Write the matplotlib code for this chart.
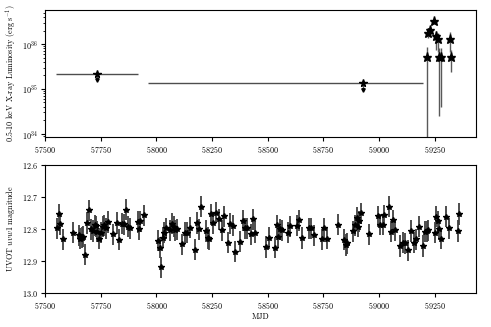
import numpy as np
import matplotlib
matplotlib.use("Agg")
import matplotlib.pyplot as plt

plt.rcParams['font.family'] = 'serif'
plt.rcParams['font.serif'] = ['cmr10']
plt.rcParams['mathtext.fontset'] = 'cm'
plt.rcParams['axes.formatter.use_mathtext'] = True
plt.rcParams['axes.unicode_minus'] = False
plt.rcParams['font.size'] = 5.8

# X-ray: long stacked observations (star + upper limit arrow below)
xr_stack_mjd = [57734, 58927]
xr_stack_lum = [2.2e35, 1.35e35]
xr_stack_lim = [1.55e35, 0.94e35]
xr_stack_xlo = [185, 963]
xr_stack_xhi = [185, 270]

# X-ray: individual 2021 observations
xr_mjd = [59214, 59221, 59229, 59248, 59256, 59266, 59271, 59278, 59317, 59323]
xr_lum = [5.1e35, 1.78e36, 2.1e36, 3.3e36, 1.54e36, 1.32e36, 5.1e35, 5.1e35, 1.32e36, 5.1e35]
xr_low = [1e30, 1.37e36, 1.75e36, 2.73e36, 7.4e35, 6.8e35, 2.5e34, 3.9e34, 6.8e35, 2.4e35]
xr_high = [8.8e35, 2.3e36, 2.5e36, 3.87e36, 1.93e36, 1.77e36, 8.1e35, 8.1e35, 1.83e36, 7.4e35]

# UVOT uvw1 magnitudes
uv_mjd = [57552, 57563, 57567, 57578, 57623, 57651, 57657, 57666, 57672, 57680,
          57687, 57699, 57707, 57714, 57722, 57729, 57735, 57744, 57751, 57759,
          57766, 57774, 57781, 57804, 57825, 57834, 57844, 57855, 57861, 57870,
          57882, 57916, 57922, 57928, 57945,
          58007, 58015, 58022, 58030, 58036, 58043, 58063, 58072, 58078, 58085,
          58091, 58115, 58128, 58139, 58150, 58175, 58183, 58190, 58198, 58223,
          58232, 58238, 58247, 58253, 58268, 58283, 58293, 58304, 58323, 58331,
          58345, 58353, 58376, 58391, 58400, 58409, 58424, 58436, 58443,
          58493, 58508, 58533, 58541, 58548, 58556, 58563, 58590, 58598, 58631,
          58640, 58655, 58685, 58695, 58710, 58746, 58752, 58767, 58814, 58844,
          58850, 58855, 58885, 58892, 58900, 58907, 58912, 58919, 58954, 58994,
          59004, 59016, 59024, 59045, 59054, 59061, 59073, 59094, 59106, 59117,
          59129, 59144, 59157, 59166, 59180, 59199, 59206, 59214, 59221, 59250,
          59256, 59263, 59271, 59278, 59299, 59314, 59353, 59360]
uv_mag = [12.798, 12.754, 12.785, 12.832, 12.811, 12.819, 12.830, 12.827, 12.824, 12.880,
          12.781, 12.741, 12.800, 12.806, 12.788, 12.791, 12.809, 12.830, 12.812, 12.793,
          12.788, 12.798, 12.778, 12.816, 12.781, 12.833, 12.783, 12.785, 12.739, 12.793,
          12.798, 12.778, 12.800, 12.775, 12.757,
          12.837, 12.858, 12.920, 12.827, 12.811, 12.798, 12.804, 12.783, 12.793, 12.804,
          12.800, 12.847, 12.811, 12.811, 12.796, 12.864, 12.781, 12.800, 12.730, 12.806,
          12.828, 12.832, 12.754, 12.781, 12.749, 12.770, 12.804, 12.760, 12.843, 12.783,
          12.790, 12.871, 12.840, 12.774, 12.798, 12.798, 12.816, 12.769, 12.811,
          12.856, 12.828, 12.859, 12.788, 12.824, 12.801, 12.804, 12.811, 12.791, 12.790,
          12.772, 12.828, 12.797, 12.797, 12.819, 12.832, 12.797, 12.830, 12.786, 12.833,
          12.850, 12.845, 12.807, 12.788, 12.764, 12.793, 12.776, 12.751, 12.816, 12.760,
          12.786, 12.786, 12.757, 12.730, 12.809, 12.772, 12.804, 12.853, 12.843, 12.845,
          12.866, 12.806, 12.843, 12.832, 12.793, 12.853, 12.809, 12.807, 12.804, 12.812,
          12.762, 12.776, 12.801, 12.830, 12.762, 12.798, 12.806, 12.753]
uv_err = 0.033

fig = plt.figure(figsize=(4.91, 3.27), dpi=100)
ax1 = fig.add_axes([0.092, 0.581, 0.877, 0.388])
ax2 = fig.add_axes([0.092, 0.104, 0.877, 0.391])

# top panel
lum = np.array(xr_stack_lum)
lim = np.array(xr_stack_lim)
ax1.errorbar(xr_stack_mjd, lum, xerr=[xr_stack_xlo, xr_stack_xhi],
             yerr=[lum - lim, np.zeros_like(lum)], fmt='*', color='k',
             ecolor='0.3', ms=5.5, lw=1, elinewidth=1)
ax1.plot(xr_stack_mjd, lim, 'v', color='k', ms=2.5)

xl = np.array(xr_lum)
ax1.errorbar(xr_mjd, xl, yerr=[xl - np.array(xr_low), np.array(xr_high) - xl],
             fmt='*', color='k', ecolor='0.35', ms=6.5, elinewidth=1)
ax1.set_yscale('log')
ax1.set_ylim(8.5e33, 5.7e36)
ax1.set_xlim(57500, 59435)
ax1.set_ylabel('0.5-10 keV X-ray Luminosity (erg s$^{-1}$)', labelpad=3)

# bottom panel
ax2.errorbar(uv_mjd, uv_mag, yerr=uv_err, fmt='*', color='k', ecolor='0.25',
             ms=4, elinewidth=1.3)
ax2.set_xlim(57500, 59435)
ax2.set_ylim(13.0, 12.6)
ax2.set_yticks([12.6, 12.7, 12.8, 12.9, 13.0])
ax2.set_ylabel('UVOT $uvw1$ magnitude')
ax2.set_xlabel('MJD', labelpad=1)

for ax in (ax1, ax2):
    ax.set_xticks([57500, 57750, 58000, 58250, 58500, 58750, 59000, 59250])
    ax.tick_params(labelsize=5.8, length=3, pad=2)
    ax.tick_params(which='minor', length=1.8)

fig.savefig('out.png', dpi=100)
